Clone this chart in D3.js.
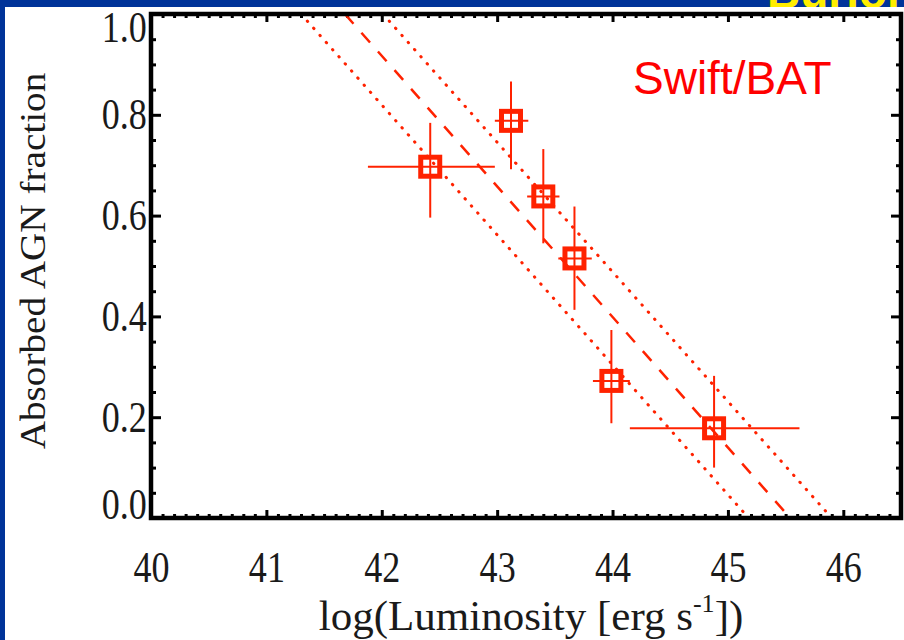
<!DOCTYPE html>
<html>
<head>
<meta charset="utf-8">
<script src="https://cdn.jsdelivr.net/npm/d3@7"></script>
<style>
  body { margin: 0; background: #003399; }
  svg { display: block; }
</style>
</head>
<body>
<div id="chart"></div>
<script>
// Luminosity bins (log erg/s) and absorbed fraction
const lum    = [42.42, 43.12, 43.40, 43.67, 43.99, 44.88];
const lumLo  = [41.88, 42.98, 43.26, 43.53, 43.83, 44.15];
const lumHi  = [42.98, 43.27, 43.54, 43.82, 44.15, 45.62];
const frac   = [0.697, 0.788, 0.638, 0.515, 0.272, 0.178];
const fracLo = [0.596, 0.692, 0.545, 0.413, 0.188, 0.100];
const fracHi = [0.784, 0.866, 0.732, 0.618, 0.373, 0.282];

// best fit (dashed) and its 1-sigma envelope (dotted), as [lum, frac] end points
const fitBest  = [[41.68, 1.0], [45.54, 0.0]];
const fitLower = [[41.30, 1.0], [45.18, 0.0]];
const fitUpper = [[42.01, 1.0], [45.90, 0.0]];

const xTicks = [40, 41, 42, 43, 44, 45, 46];
const yTicks = [0.0, 0.2, 0.4, 0.6, 0.8, 1.0];

const W = 904, H = 640;
const margin = { left: 151, right: 3, top: 14, bottom: 122 };
const red = "#ff2200";
const ink = "#1a1a1a";
const serif = "Liberation Serif, Times New Roman, serif";

const svg = d3.select("#chart").append("svg")
  .attr("width", W).attr("height", H);

// blue slide background, yellow slide title (mostly hidden under the panel), white panel
svg.append("rect").attr("width", W).attr("height", H).attr("fill", "#003399");
svg.append("text")
  .attr("x", 767).attr("y", 8)
  .attr("font-family", "Liberation Sans, Arial, sans-serif")
  .attr("font-weight", "bold").attr("font-size", 46)
  .attr("fill", "#ffee00")
  .text("Burlon");
svg.append("rect").attr("x", 5).attr("y", 7)
  .attr("width", W - 5).attr("height", H - 7).attr("fill", "#fff");

const x = d3.scaleLinear().domain([40, 46.5]).range([margin.left, W - margin.right]);
const y = d3.scaleLinear().domain([0, 1]).range([H - margin.bottom, margin.top]);

const x0 = x.range()[0], x1 = x.range()[1];
const y0 = y.range()[0], y1 = y.range()[1];

svg.append("clipPath").attr("id", "plot")
  .append("rect").attr("x", x0).attr("y", y1)
  .attr("width", x1 - x0).attr("height", y0 - y1);

// minor tick values
const xMinor = d3.range(40, 46.5001, 0.1).filter(v => Math.abs(v - Math.round(v)) > 0.01);
const yMinor = d3.range(0, 1.0001, 0.05).filter(v => Math.abs(v * 5 - Math.round(v * 5)) > 0.01);

function styleAxis(g) {
  g.select(".domain").remove();
  g.selectAll(".tick line").attr("stroke", "#000").attr("stroke-width", 3);
}

// tick labels in the original are tall and narrow
function styleLabels(sel) {
  sel.attr("font-family", serif).attr("font-size", 44).attr("fill", ink)
    .attr("transform", "scale(0.82,1)");
}

// bottom axis with labels
const bottom = svg.append("g").attr("transform", `translate(0,${y0})`);
bottom.call(d3.axisBottom(x).tickValues(xTicks).tickSize(-8).tickPadding(33)
  .tickFormat(d3.format("d"))).call(styleAxis);
bottom.selectAll(".tick text").call(styleLabels);
svg.append("g").attr("transform", `translate(0,${y0})`)
  .call(d3.axisBottom(x).tickValues(xMinor).tickSize(-4).tickFormat(""))
  .call(styleAxis);

// top axis, ticks only
svg.append("g").attr("transform", `translate(0,${y1})`)
  .call(d3.axisTop(x).tickValues(xTicks).tickSize(-8).tickFormat(""))
  .call(styleAxis);
svg.append("g").attr("transform", `translate(0,${y1})`)
  .call(d3.axisTop(x).tickValues(xMinor).tickSize(-4).tickFormat(""))
  .call(styleAxis);

// left axis with labels
const left = svg.append("g").attr("transform", `translate(${x0},0)`);
left.call(d3.axisLeft(y).tickValues(yTicks).tickSize(-10).tickPadding(5)
  .tickFormat(d3.format(".1f"))).call(styleAxis);
left.selectAll(".tick text").call(styleLabels)
  .attr("dy", d => d === 1 ? "0.62em" : d === 0 ? "0.02em" : "0.32em");
svg.append("g").attr("transform", `translate(${x0},0)`)
  .call(d3.axisLeft(y).tickValues(yMinor).tickSize(-5).tickFormat(""))
  .call(styleAxis);

// right axis, ticks only
svg.append("g").attr("transform", `translate(${x1},0)`)
  .call(d3.axisRight(y).tickValues(yTicks).tickSize(-10).tickFormat(""))
  .call(styleAxis);
svg.append("g").attr("transform", `translate(${x1},0)`)
  .call(d3.axisRight(y).tickValues(yMinor).tickSize(-5).tickFormat(""))
  .call(styleAxis);

// fit lines
const line = d3.line().x(d => x(d[0])).y(d => y(d[1]));
const fits = svg.append("g").attr("clip-path", "url(#plot)");
fits.append("path").attr("d", line(fitBest))
  .attr("fill", "none").attr("stroke", red).attr("stroke-width", 2.5)
  .attr("stroke-dasharray", "13 12");
[fitLower, fitUpper].forEach(f => {
  fits.append("path").attr("d", line(f))
    .attr("fill", "none").attr("stroke", red).attr("stroke-width", 3)
    .attr("stroke-linecap", "round")
    .attr("stroke-dasharray", "0.5 9");
});

// error bars and square markers
const pts = lum.map((v, i) => ({
  x: v, xlo: lumLo[i], xhi: lumHi[i], y: frac[i], ylo: fracLo[i], yhi: fracHi[i]
}));
const pg = svg.append("g");
pg.selectAll(".ex").data(pts).join("line")
  .attr("x1", d => x(d.xlo)).attr("x2", d => x(d.xhi))
  .attr("y1", d => y(d.y)).attr("y2", d => y(d.y))
  .attr("stroke", red).attr("stroke-width", 2);
pg.selectAll(".ey").data(pts).join("line")
  .attr("x1", d => x(d.x)).attr("x2", d => x(d.x))
  .attr("y1", d => y(d.ylo)).attr("y2", d => y(d.yhi))
  .attr("stroke", red).attr("stroke-width", 2);
const s = 19;
pg.selectAll("rect").data(pts).join("rect")
  .attr("x", d => x(d.x) - s / 2).attr("y", d => y(d.y) - s / 2)
  .attr("width", s).attr("height", s)
  .attr("fill", "none").attr("stroke", red).attr("stroke-width", 5);

// frame
svg.append("rect").attr("x", x0).attr("y", y1)
  .attr("width", x1 - x0).attr("height", y0 - y1)
  .attr("fill", "none").attr("stroke", "#000").attr("stroke-width", 4.5);

// axis titles
svg.append("text")
  .attr("x", 531).attr("y", 630)
  .attr("text-anchor", "middle")
  .attr("font-family", serif)
  .attr("font-size", 43).attr("fill", ink)
  .call(t => {
    t.append("tspan").text("log(Luminosity [erg s");
    t.append("tspan").attr("font-size", 26).attr("dy", -18).text("-1");
    t.append("tspan").attr("dy", 18).text("])");
  });
svg.append("text")
  .attr("transform", "translate(45,261) rotate(-90) scale(0.98,0.9)")
  .attr("text-anchor", "middle")
  .attr("font-family", serif)
  .attr("font-size", 40).attr("fill", ink)
  .text("Absorbed AGN fraction");

// instrument label
svg.append("text")
  .attr("x", 633).attr("y", 94)
  .attr("font-family", "Liberation Sans, Arial, sans-serif")
  .attr("font-size", 46).attr("fill", "#ff0000")
  .text("Swift/BAT");
</script>
</body>
</html>
